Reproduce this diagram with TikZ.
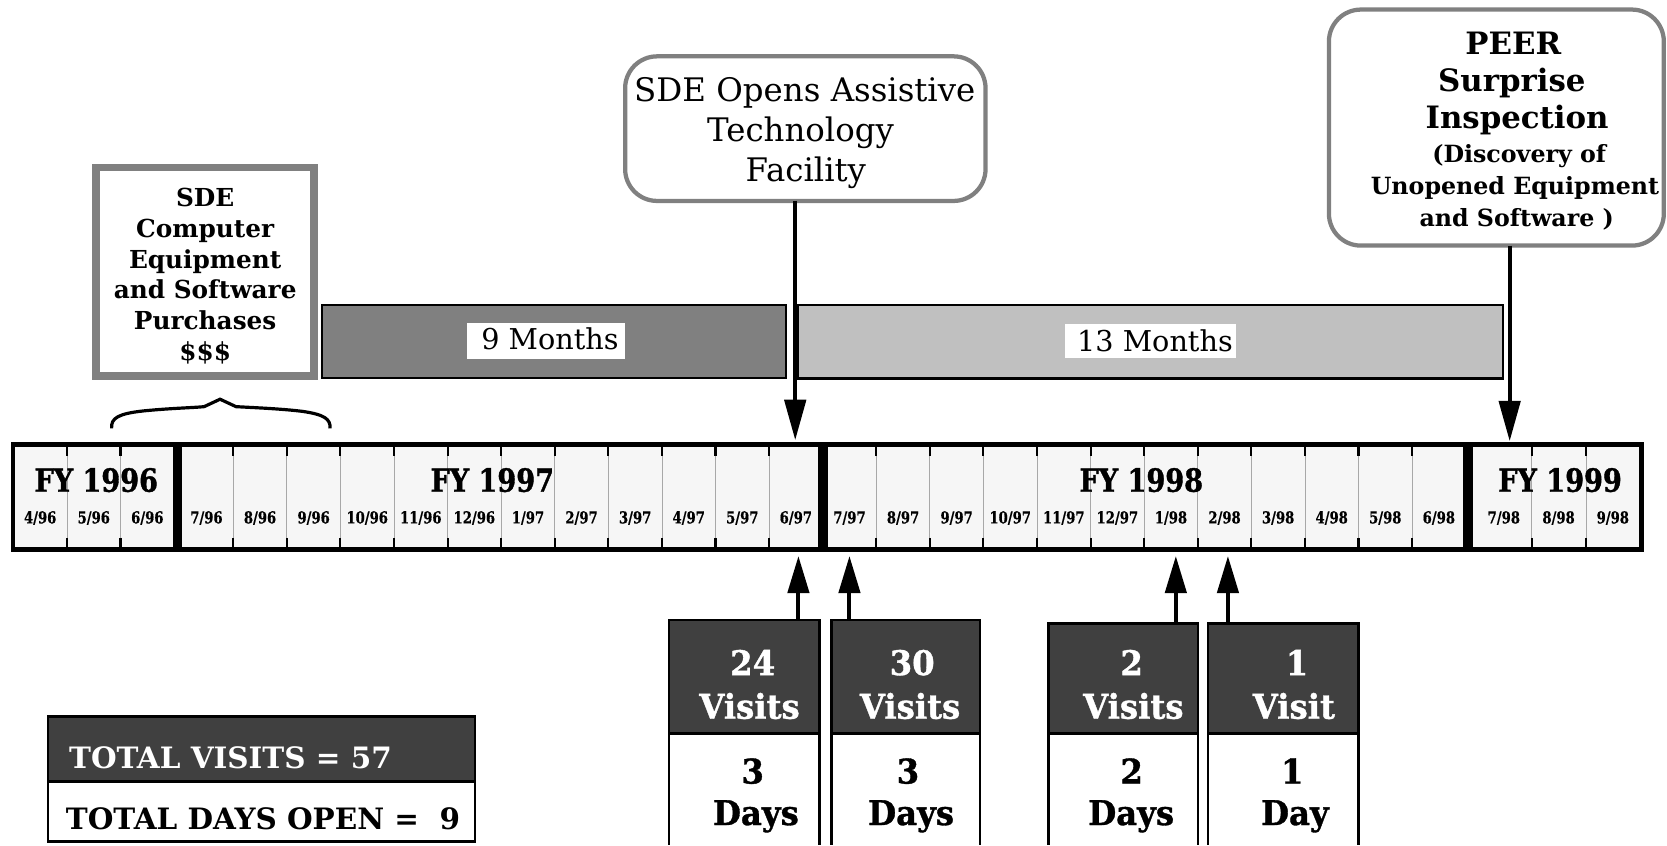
\documentclass[tikz,border=0pt]{standalone}
\usepackage{fontspec}
\setmainfont{DejaVu Serif}
\newfontfamily\fycond{DejaVu Serif}[FakeStretch=0.85, FakeBold=1.2]
\newfontfamily\mocond{DejaVu Serif}[FakeStretch=0.8, FakeBold=0.6]
\newfontfamily\heavy{DejaVu Serif}[FakeStretch=0.95, FakeBold=1.0]
\usetikzlibrary{arrows.meta}
\definecolor{midgray}{HTML}{808080}
\definecolor{lightbar}{HTML}{C0C0C0}
\definecolor{darkbox}{HTML}{404040}
\definecolor{cellgray}{HTML}{F6F6F6}
\definecolor{divgray}{HTML}{A8A8A8}
\newcommand{\myfs}[1]{\fontsize{#1}{#1}\selectfont}
\tikzset{
  fybox/.style={rectangle, draw=black, line width=4.5pt, fill=cellgray},
  divline/.style={draw=divgray, line width=0.7pt},
  tickline/.style={draw=black, line width=2pt},
  fylab/.style={anchor=base, font={\fycond\bfseries\myfs{30}}},
  molab/.style={anchor=base, font={\mocond\bfseries\myfs{15.5}}},
  graybox/.style={rectangle, draw=midgray, line width=7.2pt, fill=white},
  roundbox/.style={rectangle, rounded corners=30pt, draw=midgray, line width=4pt, fill=white},
  sdetxt/.style={anchor=base, font={\bfseries\myfs{23.3}}},
  opentxt/.style={anchor=base, font={\myfs{30.5}}},
  peerbig/.style={anchor=base, font={\bfseries\myfs{29}}},
  peersmall/.style={anchor=base, font={\bfseries\myfs{22.3}}},
  durbar/.style={rectangle, draw=black, line width=2pt},
  durbg/.style={rectangle, fill=white},
  durtxt/.style={anchor=base, font={\myfs{27}}},
  vdark/.style={rectangle, draw=black, line width=2.5pt, fill=darkbox},
  vline/.style={draw=black, line width=2.5pt},
  vwtxt/.style={anchor=base, text=white, font={\heavy\bfseries\myfs{32}}},
  vbtxt/.style={anchor=base, text=black, font={\heavy\bfseries\myfs{32}}},
  tdark/.style={rectangle, draw=black, line width=2.5pt, fill=darkbox},
  twhite/.style={rectangle, draw=black, line width=2.5pt, fill=white},
  ttxt/.style={anchor=base west, font={\bfseries\myfs{27.7}}},
  downarr/.style={line width=3.8pt, -{Triangle[length=38pt,width=20pt]}},
  uparr/.style={line width=3.8pt, -{Triangle[length=35pt,width=20pt]}},
}
\begin{document}
\begin{tikzpicture}[x=1pt, y=-1pt, inner sep=0pt, outer sep=0pt]
\useasboundingbox (0,0) rectangle (1568,795);
\coordinate (bot) at (0,795);

% ---------- SDE purchases box ----------
\node[graybox, minimum width=205.3pt, minimum height=196.3pt] (sdebox) at (192.75,255.75) {};
\foreach \t [count=\i] in {SDE,Computer,Equipment,and Software,Purchases,\$\$\$}
  \node[sdetxt] (sdel\i) at (193,{194.4+28.9*(\i-1)}) {\t};

% ---------- SDE opens box ----------
\node[roundbox, minimum width=339pt, minimum height=136pt] (opens) at (757.5,121) {};
\node[opentxt] (op1) at (757,95.6) {SDE Opens Assistive};
\node[opentxt] (op2) at (753,133.3) {Technology};
\node[opentxt] (op3) at (758,170.9) {Facility};

% ---------- PEER box ----------
\node[roundbox, minimum width=315pt, minimum height=222pt] (peer) at (1407.5,120) {};
\node[peerbig] (pe1) at (1423.5,51.7) {PEER};
\node[peerbig] (pe2) at (1422,86.2) {Surprise};
\node[peerbig] (pe3) at (1427,120.7) {Inspection};
\node[peersmall] (pe4) at (1429,153) {(Discovery of};
\node[peersmall] (pe5) at (1425,183.4) {Unopened Equipment};
\node[peersmall] (pe6) at (1426.6,213.2) {and Software )};

% ---------- duration bars ----------
\node[durbar, fill=midgray, minimum width=436.4pt, minimum height=68.6pt] (nine) at (520.8,321.3) {};
\node[durbg, minimum width=149pt, minimum height=34pt] (ninebg) at (513.5,321) {};
\node[durtxt] (ninelab) at (517.3,329.2) {9 Months};
\node[durbar, fill=lightbar, minimum width=663pt, minimum height=69pt] (thirteen) at (1082.5,321.5) {};
\node[durbg, minimum width=160.8pt, minimum height=32.2pt] (thirteenbg) at (1082.2,320.9) {};
\node[durtxt] (thirteenlab) at (1086.4,330.8) {13 Months};

% ---------- brace ----------
\draw[line width=3pt, line join=miter]
  (105,403) .. controls (104,393) and (112,389) .. (135,386.5)
  .. controls (160,384) and (182,383.5) .. (192,382.5) -- (207,375.5) -- (222,382.5)
  .. controls (240,383.5) and (265,384.5) .. (285,387)
  .. controls (305,390) and (311,394) .. (310.5,403);

% ---------- timeline ----------
\node[fybox, minimum width=152.5pt, minimum height=98.5pt] (fy96) at (88.5,467.5) {};
\node[fybox, minimum width=602.5pt, minimum height=98.5pt] (fy97) at (470.5,467.5) {};
\node[fybox, minimum width=602.5pt, minimum height=98.5pt] (fy98) at (1077.5,467.5) {};
\node[fybox, minimum width=160.5pt, minimum height=98.5pt] (fy99) at (1463.5,467.5) {};

\foreach \xx in {63,113.4,1440.8,1491.9} {
  \draw[divline] (\xx,420.5) -- (\xx,514.5);
  \draw[tickline] (\xx,420.5) -- (\xx,429);
  \draw[tickline] (\xx,506) -- (\xx,514.5);
}
\foreach \k in {1,...,11} {
  \pgfmathsetmacro{\xa}{169+50.4*\k}
  \pgfmathsetmacro{\xb}{773.8+50.4*\k}
  \draw[divline] (\xa,420.5) -- (\xa,514.5);
  \draw[tickline] (\xa,420.5) -- (\xa,429);
  \draw[tickline] (\xa,506) -- (\xa,514.5);
  \draw[divline] (\xb,420.5) -- (\xb,514.5);
  \draw[tickline] (\xb,420.5) -- (\xb,429);
  \draw[tickline] (\xb,506) -- (\xb,514.5);
}

\node[fylab] (fy96lab) at (90.5,462.5) {FY 1996};
\node[fylab] (fy97lab) at (463,462.5) {FY 1997};
\node[fylab] (fy98lab) at (1073.5,462.5) {FY 1998};
\node[fylab] (fy99lab) at (1467.4,462.5) {FY 1999};

\foreach \lab [count=\k] in {4/96,5/96,6/96}
  \node[molab] (m96-\k) at ({12.6+50.4*(\k-0.5)},492.3) {\lab};
\foreach \lab [count=\k] in {7/96,8/96,9/96,10/96,11/96,12/96,1/97,2/97,3/97,4/97,5/97,6/97}
  \node[molab] (m97-\k) at ({169+50.4*(\k-0.5)},492.3) {\lab};
\foreach \lab [count=\k] in {7/97,8/97,9/97,10/97,11/97,12/97,1/98,2/98,3/98,4/98,5/98,6/98}
  \node[molab] (m98-\k) at ({773.8+50.4*(\k-0.5)},492.3) {\lab};
\node[molab] (m99-1) at (1414.5,492.3) {7/98};
\node[molab] (m99-2) at (1466,492.3) {8/98};
\node[molab] (m99-3) at (1517,492.3) {9/98};

% ---------- visit boxes ----------
\node[vdark, minimum width=141.5pt, minimum height=106.75pt] (v1) at (700,636.625) {};
\node[vdark, minimum width=139.5pt, minimum height=106.75pt] (v2) at (852,636.625) {};
\node[vdark, minimum width=140.5pt, minimum height=103.75pt] (v3) at (1056.5,638.125) {};
\node[vdark, minimum width=141.5pt, minimum height=103.75pt] (v4) at (1207,638.125) {};
\foreach \v in {v1,v2,v3,v4} {
  \draw[vline] (\v.south west) -- (\v.south west |- bot);
  \draw[vline] (\v.south east) -- (\v.south east |- bot);
}
\node[vwtxt] (v1a) at (708,635) {24};
\node[vwtxt] (v1b) at (705,676) {Visits};
\node[vbtxt] (v1c) at (708,737) {3};
\node[vbtxt] (v1d) at (711,776) {Days};
\node[vwtxt] (v2a) at (858,635) {30};
\node[vwtxt] (v2b) at (856,676) {Visits};
\node[vbtxt] (v2c) at (854,737) {3};
\node[vbtxt] (v2d) at (857,776) {Days};
\node[vwtxt] (v3a) at (1064.5,635) {2};
\node[vwtxt] (v3b) at (1066,676) {Visits};
\node[vbtxt] (v3c) at (1064.5,737) {2};
\node[vbtxt] (v3d) at (1064,776) {Days};
\node[vwtxt] (v4a) at (1220,635) {1};
\node[vwtxt] (v4b) at (1217,676) {Visit};
\node[vbtxt] (v4c) at (1215.5,737) {1};
\node[vbtxt] (v4d) at (1218,776) {Day};

% ---------- totals ----------
\node[tdark, minimum width=401.5pt, minimum height=61.25pt] (tvis) at (246,704.375) {};
\node[twhite, minimum width=401.5pt, minimum height=56.75pt] (tdays) at (246,763.375) {};
\node[ttxt, text=white] (tvistxt) at (65,723) {TOTAL VISITS = 57};
\node[ttxt] (tdaystxt) at (62,780) {TOTAL DAYS OPEN =\ \ 9};

% ---------- arrows ----------
\coordinate (opentip) at (748,414);
\coordinate (peertip) at (1420,415);
\draw[downarr] (opens.south -| opentip) -- (opentip);
\draw[downarr] (peer.south -| peertip) -- (peertip);
\coordinate (u1) at (751,523);
\coordinate (u2) at (799,523);
\coordinate (u3) at (1106,523);
\coordinate (u4) at (1155,523);
\draw[uparr] (v1.north -| u1) -- (u1);
\draw[uparr] (v2.north -| u2) -- (u2);
\draw[uparr] (v3.north -| u3) -- (u3);
\draw[uparr] (v4.north -| u4) -- (u4);
\end{tikzpicture}
\end{document}
